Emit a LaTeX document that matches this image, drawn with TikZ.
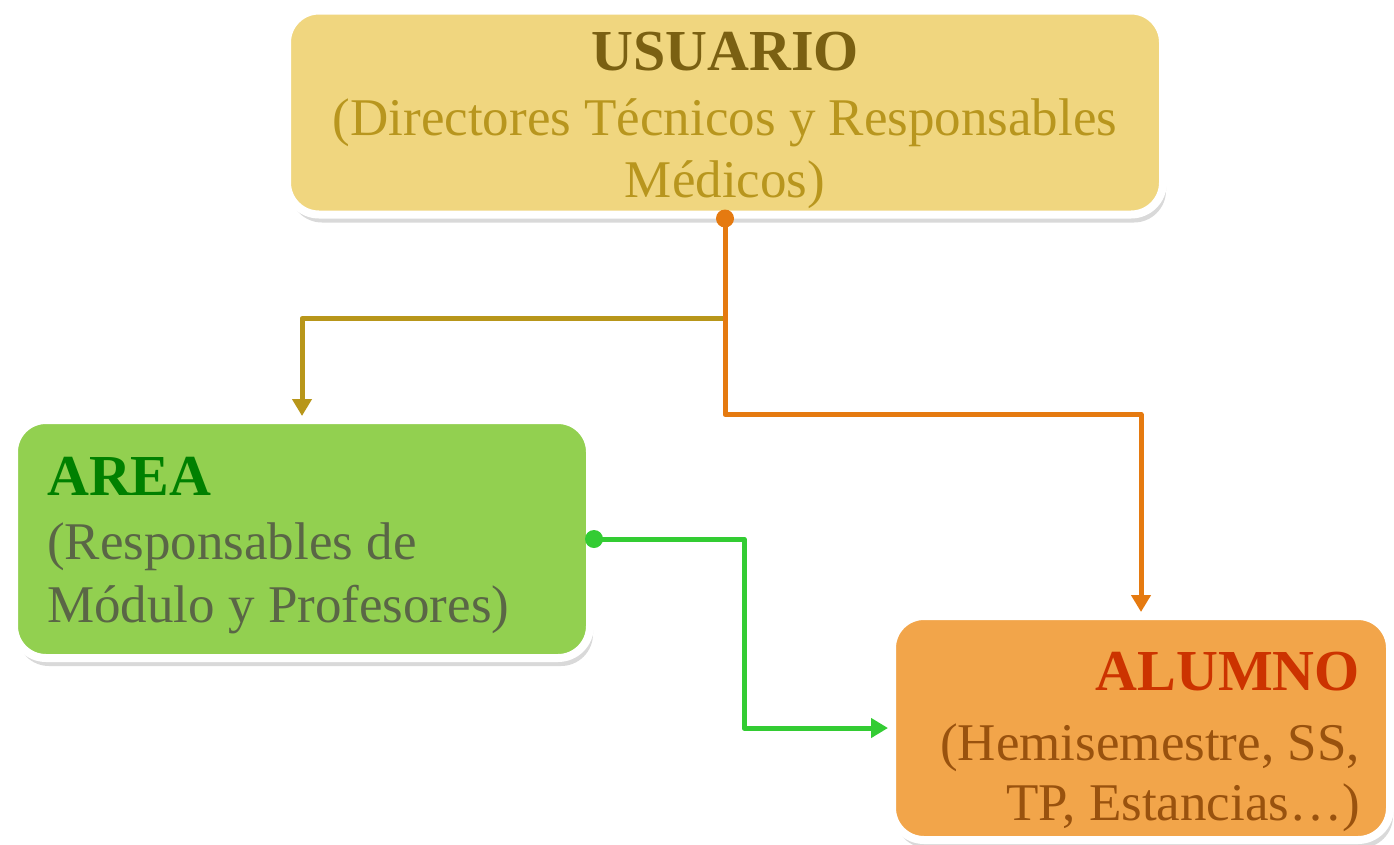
\documentclass[tikz,border=0pt]{standalone}
\usepackage{fontspec}
\setmainfont{Liberation Serif}
\usetikzlibrary{arrows.meta,shadows,calc}
\definecolor{usuFill}{HTML}{F0D67F}
\definecolor{usuTitle}{HTML}{7A6012}
\definecolor{usuSub}{HTML}{B8961E}
\definecolor{areaFill}{HTML}{92D050}
\definecolor{areaTitle}{HTML}{008000}
\definecolor{areaSub}{HTML}{5A6646}
\definecolor{alumFill}{HTML}{F2A54A}
\definecolor{alumTitle}{HTML}{CC3300}
\definecolor{alumSub}{HTML}{99520E}
\definecolor{lnOrange}{HTML}{E57A10}
\definecolor{lnOlive}{HTML}{B8961A}
\definecolor{lnGreen}{HTML}{33CC33}
\begin{document}
\begin{tikzpicture}[x=1pt,y=-1pt,
  box/.style={draw=white, line width=8pt, rounded corners=32pt, inner sep=0pt,
    drop shadow={shadow xshift=3pt, shadow yshift=-8pt, opacity=0.3}},
  ttl/.style={inner sep=0pt, font=\fontsize{58}{60}\selectfont\bfseries},
  sub/.style={inner sep=0pt, font=\fontsize{53}{60}\selectfont},
  conn/.style={line width=5pt, line join=round},
  tip/.style={-{Triangle[length=17pt,width=19pt]}}]
\useasboundingbox (0,0) rectangle (1394,844);
% boxes
\node[box, fill=usuFill, minimum width=876pt, minimum height=204pt] (usuario) at (725,112.5) {};
\node[box, fill=areaFill, minimum width=576pt, minimum height=238pt] (area) at (302,539) {};
\node[box, fill=alumFill, minimum width=498pt, minimum height=224pt] (alumno) at (1141,728) {};
% texts
\node[ttl, anchor=base, text=usuTitle] (usuT) at (725,70) {USUARIO};
\node[sub, anchor=base, text=usuSub] (usuS1) at (725,135) {(Directores Técnicos y Responsables};
\node[sub, anchor=base, text=usuSub] (usuS2) at (725,197) {Médicos)};
\node[ttl, anchor=base west, text=areaTitle] (areaT) at (47,495) {AREA};
\node[sub, anchor=base west, text=areaSub] (areaS1) at (47,559) {(Responsables de};
\node[sub, anchor=base west, text=areaSub] (areaS2) at (47,622) {Módulo y Profesores)};
\node[ttl, anchor=base east, text=alumTitle] (alumT) at (1360,690) {ALUMNO};
\node[sub, anchor=base east, text=alumSub] (alumS1) at (1360,760) {(Hemisemestre, SS,};
\node[sub, anchor=base east, text=alumSub] (alumS2) at (1360,820) {TP, Estancias…)};
% connectors
\coordinate (j) at ($(usuario.south)+(0,100)$);
\draw[conn, lnOlive, tip] (j) -| (area.north);
\draw[conn, lnOrange, tip] (usuario.south) -- ($(usuario.south)+(0,196)$) -| (alumno.north);
\fill[lnOrange] (usuario.south) circle (9);
\draw[conn, lnGreen, tip] (area.east) -- ($(area.east)+(150,0)$) |- (alumno.west);
\fill[lnGreen] (area.east) circle (9);
\end{tikzpicture}
\end{document}
